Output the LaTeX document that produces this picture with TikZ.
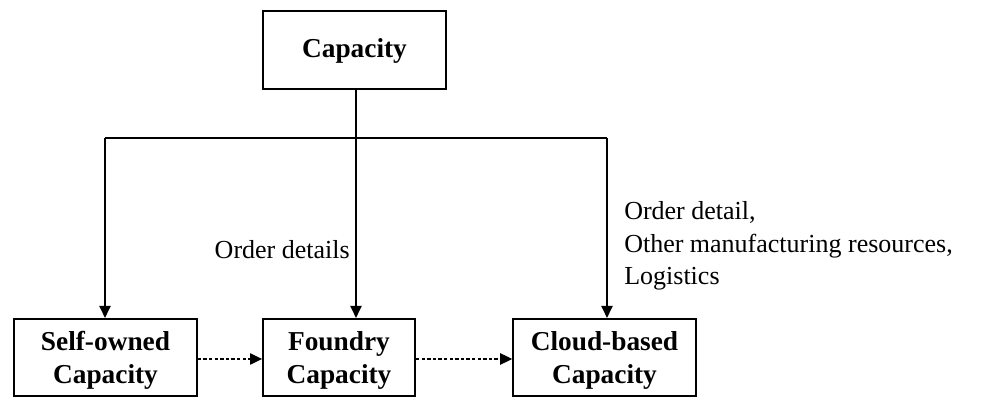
\documentclass[tikz,border=0pt]{standalone}
\usepackage{fontspec}
\setmainfont{Liberation Serif}
\usetikzlibrary{arrows.meta}
\begin{document}
\begin{tikzpicture}[x=0.75pt,y=-0.75pt,
  box/.style={draw, line width=1.4pt, inner sep=0pt},
  boxtext/.style={inner sep=0pt, font=\fontsize{20.5pt}{25pt}\selectfont\bfseries, align=center},
  conn/.style={line width=0.9pt, -{Triangle[length=9pt,width=8.5pt]}},
  dconn/.style={line width=0.9pt, dash pattern=on 2.6pt off 1.6pt, -{Triangle[length=9pt,width=8.5pt]}},
  lbl/.style={font=\fontsize{19.5pt}{25pt}\selectfont, inner sep=0pt}]
\useasboundingbox (0,0) rectangle (989,398);
\node[box, minimum width=137pt, minimum height=58.5pt] (cap) at (354.5,50) {};
\node[boxtext] (capt) at ([yshift=-1pt]cap.center) {Capacity};
\node[box, minimum width=137pt, minimum height=58pt] (self) at (105.5,357.5) {};
\node[boxtext] (selft) at ([yshift=-2.3pt]self.center) {Self-owned\\Capacity};
\node[box, minimum width=114pt, minimum height=58pt] (found) at (339,357.5) {};
\node[boxtext] (foundt) at ([yshift=-2.3pt]found.center) {Foundry\\Capacity};
\node[box, minimum width=137pt, minimum height=58pt] (cloud) at (604.5,357.5) {};
\node[boxtext] (cloudt) at ([yshift=-2.3pt]cloud.center) {Cloud-based\\Capacity};
\coordinate (j) at (356,138);
\coordinate (jl) at (105,138);
\coordinate (jr) at (607,138);
\draw[line width=0.9pt] (cap.south -| j) -- (j);
\draw[line width=0.9pt] (jl) -- (jr);
\draw[conn] (jl) -- (jl |- self.north);
\draw[conn] (j) -- (j |- found.north);
\draw[conn] (jr) -- (jr |- cloud.north);
\draw[dconn] (self.east |- 0,359) -- (found.west |- 0,359);
\draw[dconn] (found.east |- 0,359) -- (cloud.west |- 0,359);
\node[lbl, anchor=base east] (od) at (350,259) {Order details};
\node[lbl, anchor=base west, align=left] (od2) at (624,285) {Order detail,\\[-0.5pt]Other manufacturing resources,\\[-0.5pt]Logistics};
\end{tikzpicture}
\end{document}
